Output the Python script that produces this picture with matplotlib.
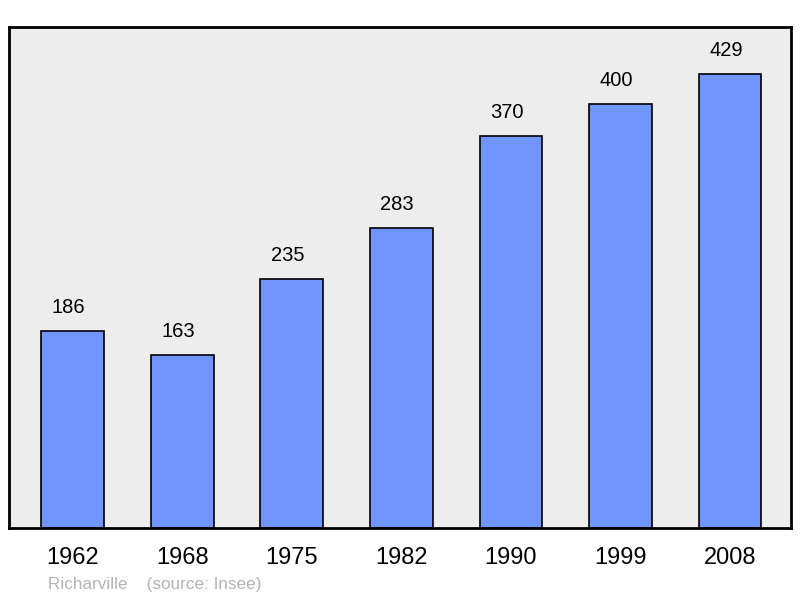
import matplotlib.pyplot as plt

plt.rcParams['font.family'] = ['Liberation Sans', 'DejaVu Sans']

years = ['1962', '1968', '1975', '1982', '1990', '1999', '2008']
population = [186, 163, 235, 283, 370, 400, 429]

fig = plt.figure(figsize=(8, 5.98), dpi=100)
ax = fig.add_axes([9 / 800, 1 - 528 / 598, 782 / 800, 501 / 598])
ax.set_facecolor('#ededed')

x = range(len(years))
bars = ax.bar(x, population, width=0.575, color='#7095ff', edgecolor='black', linewidth=1.2, zorder=2)

# value labels sit a little left of the bar centre, as in the original
for b, v in zip(bars, population):
    ax.annotate(str(v), (b.get_x() + b.get_width() / 2, v), xytext=(-3, 10),
                textcoords='offset points', ha='center', va='bottom', fontsize=14.5)

ax.set_xlim(-0.584, 6.557)
ax.set_ylim(0, 473)
ax.set_xticks(list(x))
ax.set_xticklabels(years, fontsize=17)
ax.tick_params(axis='x', length=0, pad=14)
ax.set_yticks([])
for s in ax.spines.values():
    s.set_linewidth(2)

fig.text(48 / 800, 1 - 589 / 598, 'Richarville    (source: Insee)', color='#b3b3b3',
         fontsize=12.3, ha='left', va='baseline')

fig.savefig('out.png', dpi=100)
